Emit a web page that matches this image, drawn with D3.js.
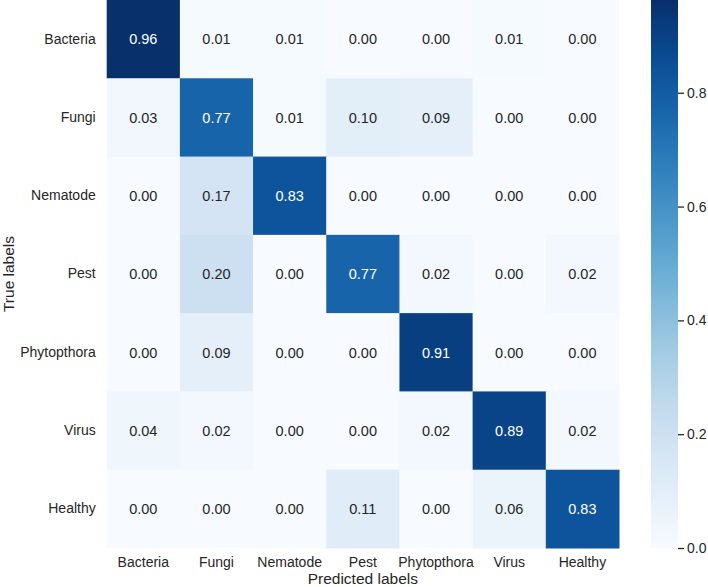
<!DOCTYPE html>
<html>
<head>
<meta charset="utf-8">
<script src="https://cdn.jsdelivr.net/npm/d3@7"></script>
<style>
  body { margin: 0; background: #fff; }
  text { font-family: Arial, "Liberation Sans", sans-serif; fill: #262626; }
</style>
</head>
<body>
<svg id="cm"></svg>
<script>
// klase i matrica zabune (redovi = stvarne, stupci = predviđene)
const classes = ["Bacteria", "Fungi", "Nematode", "Pest", "Phytopthora", "Virus", "Healthy"];
const rowBacteria    = [0.96, 0.01, 0.01, 0.00, 0.00, 0.01, 0.00];
const rowFungi       = [0.03, 0.77, 0.01, 0.10, 0.09, 0.00, 0.00];
const rowNematode    = [0.00, 0.17, 0.83, 0.00, 0.00, 0.00, 0.00];
const rowPest        = [0.00, 0.20, 0.00, 0.77, 0.02, 0.00, 0.02];
const rowPhytopthora = [0.00, 0.09, 0.00, 0.00, 0.91, 0.00, 0.00];
const rowVirus       = [0.04, 0.02, 0.00, 0.00, 0.02, 0.89, 0.02];
const rowHealthy     = [0.00, 0.00, 0.00, 0.11, 0.00, 0.06, 0.83];
const colorTicks = [0.0, 0.2, 0.4, 0.6, 0.8];

const rows = [rowBacteria, rowFungi, rowNematode, rowPest, rowPhytopthora, rowVirus, rowHealthy];
const cells = [];
rows.forEach((r, i) => r.forEach((v, j) => cells.push({ t: classes[i], p: classes[j], v: v })));

const W = 708, H = 587;
const plotLeft = 106.7, plotRight = 619, plotTop = 0, plotBottom = 548;

const svg = d3.select('#cm').attr('width', W).attr('height', H);

const x = d3.scaleBand().domain(classes).range([plotLeft, plotRight]);
const y = d3.scaleBand().domain(classes).range([plotTop, plotBottom]);

const vmax = 0.963;
const color = d3.scaleSequential(d3.interpolateBlues).domain([0, vmax]);

svg.selectAll('.cell')
    .data(cells)
    .enter()
    .append('rect')
    .attr('class', 'cell')
    .attr('x', d => x(d.p))
    .attr('y', d => y(d.t))
    .attr('width', x.bandwidth() + 0.5)
    .attr('height', y.bandwidth() + 0.5)
    .attr('fill', d => color(d.v));

svg.selectAll('.annot')
    .data(cells)
    .enter()
    .append('text')
    .attr('class', 'annot')
    .attr('x', d => x(d.p) + x.bandwidth() / 2)
    .attr('y', d => y(d.t) + y.bandwidth() / 2)
    .attr('dy', '0.36em')
    .attr('text-anchor', 'middle')
    .style('font-size', '14.5px')
    .style('fill', d => d.v > 0.45 ? '#ffffff' : '#262626')
    .text(d => d.v.toFixed(2));

// oznake osi
svg.append('g')
    .attr('transform', `translate(0,${plotBottom})`)
    .call(d3.axisBottom(x).tickSize(0).tickPadding(9))
    .call(g => g.select('.domain').remove())
    .selectAll('text')
    .style('font-size', '14px')
    .attr('fill', '#262626')
    .style('font-family', 'Arial, "Liberation Sans", sans-serif');

svg.append('g')
    .attr('transform', `translate(${plotLeft},0)`)
    .call(d3.axisLeft(y).tickSize(0).tickPadding(11))
    .call(g => g.select('.domain').remove())
    .selectAll('text')
    .style('font-size', '14px')
    .attr('fill', '#262626')
    .style('font-family', 'Arial, "Liberation Sans", sans-serif');

svg.append('text')
    .attr('x', (plotLeft + plotRight) / 2)
    .attr('y', 584)
    .attr('text-anchor', 'middle')
    .style('font-size', '15.5px')
    .text('Predicted labels');

svg.append('text')
    .attr('transform', `translate(13.5,${(plotTop + plotBottom) / 2}) rotate(-90)`)
    .attr('text-anchor', 'middle')
    .style('font-size', '15.5px')
    .text('True labels');

// colorbar
const cbX = 651, cbW = 27;
const cy = d3.scaleLinear().domain([0, vmax]).range([plotBottom, plotTop]);

const grad = svg.append('defs').append('linearGradient')
    .attr('id', 'cbar')
    .attr('x1', 0).attr('y1', 1).attr('x2', 0).attr('y2', 0);
grad.selectAll('stop')
    .data(d3.range(0, 1.0001, 0.02))
    .enter()
    .append('stop')
    .attr('offset', d => d)
    .attr('stop-color', d => color(d * vmax));

svg.append('rect')
    .attr('x', cbX)
    .attr('y', plotTop)
    .attr('width', cbW)
    .attr('height', plotBottom - plotTop)
    .attr('fill', 'url(#cbar)');

svg.append('g')
    .attr('transform', `translate(${cbX + cbW},0)`)
    .call(d3.axisRight(cy).tickValues(colorTicks).tickFormat(d3.format('.1f')).tickSize(6).tickPadding(3))
    .call(g => g.select('.domain').remove())
    .call(g => g.selectAll('line').attr('stroke', '#262626').attr('stroke-width', 1.3))
    .selectAll('text')
    .style('font-size', '14px')
    .attr('fill', '#262626')
    .style('font-family', 'Arial, "Liberation Sans", sans-serif');
</script>
</body>
</html>
